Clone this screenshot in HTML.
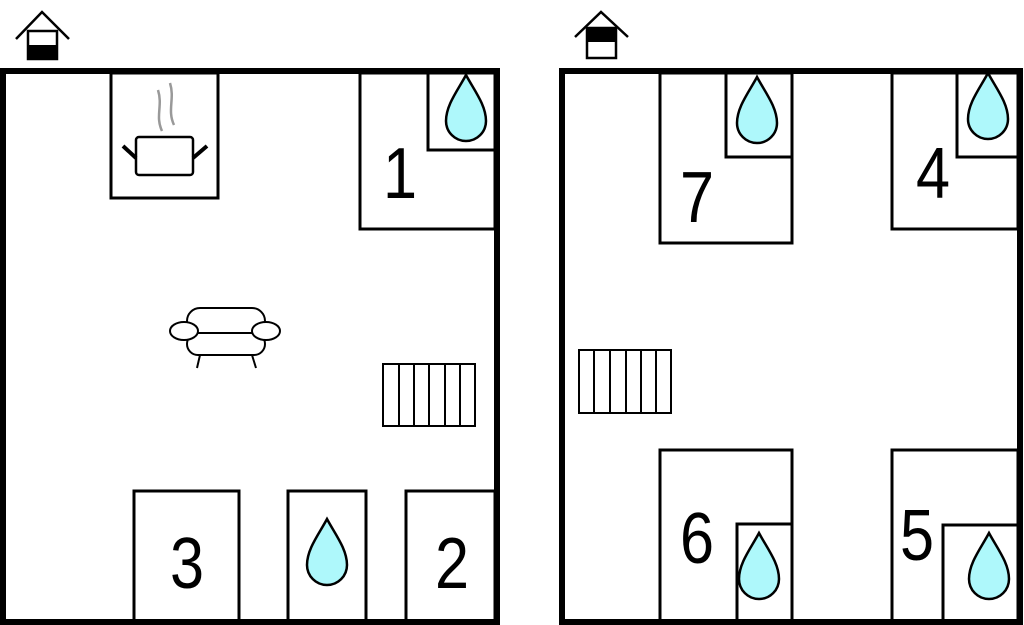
<!DOCTYPE html>
<html><head><style>body{margin:0;background:#fff}svg{display:block}</style></head>
<body>
<svg width="1024" height="625" viewBox="0 0 1024 625" xmlns="http://www.w3.org/2000/svg">
<defs>
<path id="drop" d="M0,0 C-8,15 -20,30 -20,46 A20,20 0 0 0 20,46 C20,30 8,15 0,0 Z" fill="#aef8fb" stroke="#000" stroke-width="2.5"/>
</defs>
<g fill="none" stroke="#000">
<polyline points="16,39 42,12 69,39" stroke-width="2.5"/>
<rect x="28" y="31" width="29" height="28" stroke-width="2.5"/>
<rect x="27" y="45" width="31" height="14" fill="#000" stroke="none"/>
<polyline points="575,37 601,12 628,37" stroke-width="2.5"/>
<rect x="587" y="28" width="29" height="30" stroke-width="2.5"/>
<rect x="586" y="27" width="31" height="15" fill="#000" stroke="none"/>

<rect x="3" y="71" width="494" height="551" stroke-width="6"/>
<rect x="111" y="73" width="107" height="125" stroke-width="3"/>
<rect x="360" y="73" width="135" height="156" stroke-width="3"/>
<rect x="428" y="73" width="67" height="77" stroke-width="3"/>
<rect x="134" y="491" width="105" height="133" stroke-width="3"/>
<rect x="288" y="491" width="78" height="133" stroke-width="3"/>
<rect x="406" y="491" width="89" height="133" stroke-width="3"/>
<rect x="136" y="137" width="57" height="38" rx="3" stroke-width="2.5"/>
<line x1="123" y1="146" x2="136" y2="158" stroke-width="4"/>
<line x1="193" y1="158" x2="207" y2="146" stroke-width="4"/>
<path d="M162,131 C155,116 163,106 158,90" stroke="#999" stroke-width="2.5"/>
<path d="M174,125 C167,110 175,99 170,83" stroke="#999" stroke-width="2.5"/>
<line x1="200" y1="355" x2="197" y2="368" stroke-width="2"/>
<line x1="252" y1="355" x2="256" y2="368" stroke-width="2"/>
<rect x="187" y="308" width="78" height="28" rx="13" stroke-width="2" fill="#fff"/>
<rect x="187" y="333" width="78" height="22" rx="11" stroke-width="2" fill="#fff"/>
<ellipse cx="184" cy="331" rx="14" ry="9" stroke-width="2" fill="#fff"/>
<ellipse cx="266" cy="331" rx="14" ry="9" stroke-width="2" fill="#fff"/>
<rect x="383" y="364" width="92" height="62" stroke-width="2"/>
<path d="M399,364V426M414,364V426M429,364V426M445,364V426M460,364V426" stroke-width="2"/>

<rect x="562" y="71" width="458" height="551" stroke-width="6"/>
<rect x="660" y="73" width="132" height="170" stroke-width="3"/>
<rect x="726" y="73" width="66" height="84" stroke-width="3"/>
<rect x="892" y="73" width="126" height="156" stroke-width="3"/>
<rect x="957" y="73" width="61" height="84" stroke-width="3"/>
<rect x="660" y="450" width="132" height="174" stroke-width="3"/>
<rect x="737" y="524" width="55" height="100" stroke-width="3"/>
<rect x="892" y="450" width="126" height="174" stroke-width="3"/>
<rect x="943" y="525" width="75" height="99" stroke-width="3"/>
<rect x="579" y="350" width="92" height="63" stroke-width="2"/>
<path d="M594,350V413M610,350V413M626,350V413M641,350V413M656,350V413" stroke-width="2"/>
</g>
<use href="#drop" x="466" y="75"/>
<use href="#drop" x="327" y="519"/>
<use href="#drop" x="757" y="77"/>
<use href="#drop" x="988" y="73"/>
<use href="#drop" x="759" y="533"/>
<use href="#drop" x="989" y="533"/>
<g font-family="Liberation Sans, sans-serif" font-size="72" text-anchor="middle" fill="#000">
<text transform="translate(400,198) scale(0.85,1)">1</text>
<text transform="translate(187,588) scale(0.85,1)">3</text>
<text transform="translate(452,588) scale(0.85,1)">2</text>
<text transform="translate(697,222) scale(0.85,1)">7</text>
<text transform="translate(933,198) scale(0.85,1)">4</text>
<text transform="translate(697,563) scale(0.85,1)">6</text>
<text transform="translate(917,560) scale(0.85,1)">5</text>
</g>
</svg>
</body></html>
